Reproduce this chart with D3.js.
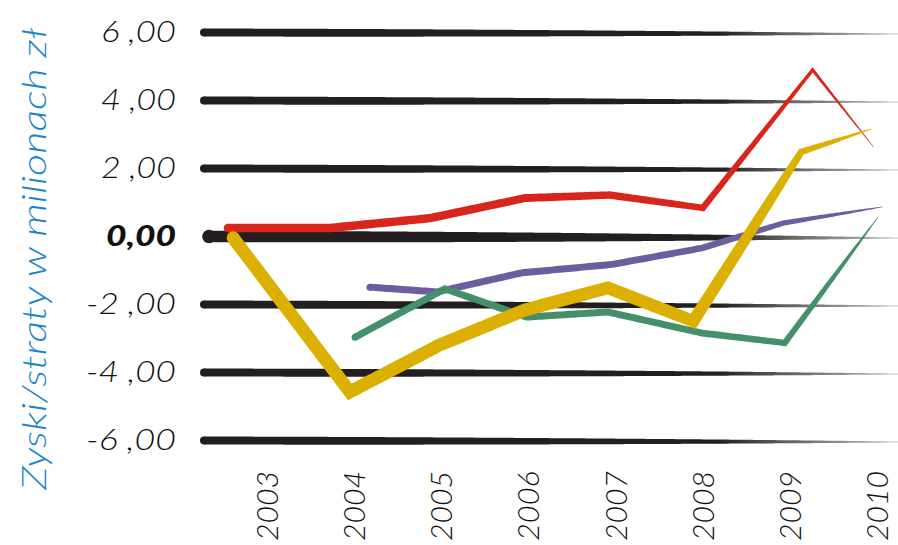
<!DOCTYPE html>
<html><head><meta charset="utf-8">
<script src="https://cdn.jsdelivr.net/npm/d3@7"></script>
<style>html,body{margin:0;padding:0;background:#fff;} svg{display:block;}</style>
</head><body>
<svg id="c" width="898" height="545"></svg>
<script>
const years = [2003,2004,2005,2006,2007,2008,2009,2010];
const yTicks = [6,4,2,0,-2,-4,-6];
const yTickLabels = ["6 ,00","4 ,00","2 ,00","0,00","-2 ,00","-4 ,00","-6 ,00"];
const yTitle = "Zyski/straty w milionach zł";
// positions along the year axis (as drawn) and values, in millions
const redX = [2002.54,2003.71,2004.86,2005.95,2006.92,2007.99,2009.25,2009.95];
const redY = [0.25,0.25,0.54,1.13,1.22,0.84,4.90,2.63];
const yellowX = [2002.60,2003.94,2004.97,2005.95,2006.90,2007.88,2009.12,2009.92];
const yellowY = [-0.04,-4.57,-3.19,-2.16,-1.51,-2.49,2.49,3.16];
const greenX = [2004.0,2005.03,2005.97,2006.90,2007.98,2008.93,2010.0];
const greenY = [-2.96,-1.54,-2.37,-2.22,-2.84,-3.13,0.57];
const purpleX = [2004.17,2004.94,2005.91,2006.95,2007.98,2008.92,2010.05];
const purpleY = [-1.49,-1.63,-1.07,-0.82,-0.34,0.40,0.87];

const svg = d3.select("#c");
const x = d3.scaleLinear().domain([2003,2010]).range([268,878]);
const y = d3.scaleLinear().domain([-6,6]).range([440.5,32.5]);
const INK = "#231f20";

const defs = svg.append("defs");
const g = defs.append("linearGradient").attr("id","fade")
  .attr("gradientUnits","userSpaceOnUse").attr("x1",200).attr("x2",898).attr("y1",0).attr("y2",0);
g.append("stop").attr("offset","0").attr("stop-color",INK);
g.append("stop").attr("offset","0.74").attr("stop-color",INK);
g.append("stop").attr("offset","1").attr("stop-color","#c4c4c4");

// build a tapered outline polygon with miter joins
function taper(pts, wfun){
  const rs = [];
  for (let i=0;i<pts.length-1;i++){
    const a=pts[i], b=pts[i+1];
    const d=Math.hypot(b[0]-a[0],b[1]-a[1]);
    const n=Math.max(1,Math.ceil(d/3));
    for (let k=0;k<n;k++) rs.push([a[0]+(b[0]-a[0])*k/n, a[1]+(b[1]-a[1])*k/n]);
  }
  rs.push(pts[pts.length-1]);
  const L=[0];
  for (let i=1;i<rs.length;i++) L.push(L[i-1]+Math.hypot(rs[i][0]-rs[i-1][0],rs[i][1]-rs[i-1][1]));
  const tot=L[L.length-1];
  const left=[], right=[];
  const nrm=(a,b)=>{const dx=b[0]-a[0],dy=b[1]-a[1],l=Math.hypot(dx,dy)||1;return [-dy/l,dx/l];};
  for (let i=0;i<rs.length;i++){
    const w=wfun(L[i]/tot, rs[i]);
    let m, sc=1;
    if (i===0) m=nrm(rs[0],rs[1]);
    else if (i===rs.length-1) m=nrm(rs[i-1],rs[i]);
    else {
      const n1=nrm(rs[i-1],rs[i]), n2=nrm(rs[i],rs[i+1]);
      let mx=n1[0]+n2[0], my=n1[1]+n2[1]; const ml=Math.hypot(mx,my)||1;
      m=[mx/ml,my/ml]; sc=Math.min(4,1/Math.max(0.25,(m[0]*n1[0]+m[1]*n1[1])));
    }
    left.push([rs[i][0]+m[0]*w/2*sc, rs[i][1]+m[1]*w/2*sc]);
    right.push([rs[i][0]-m[0]*w/2*sc, rs[i][1]-m[1]*w/2*sc]);
  }
  const all=left.concat(right.reverse());
  return "M"+all.map(p=>p[0].toFixed(2)+","+p[1].toFixed(2)).join("L")+"Z";
}

// gridlines
const grid = svg.append("g");
yTicks.forEach(v=>{
  const zero = v===0;
  const x0 = zero?209:204, x1 = 898, w0 = zero?11.5:8;
  const pts=[[x0,y(v)],[x1,y(v)+1.5]];
  grid.append("path").attr("d",taper(pts,(s)=>1+(w0-1)*(1-s*s))).attr("fill","url(#fade)");
  grid.append("circle").attr("cx",x0).attr("cy",y(v)).attr("r",zero?6.8:w0/2).attr("fill",INK);
});

// y labels
svg.append("g").selectAll("text").data(yTicks).join("text")
  .attr("x",176).attr("y",d=>y(d)-2)
  .attr("text-anchor","end").attr("dominant-baseline","central")
  .attr("font-family","Lato, 'Open Sans', sans-serif")
  .attr("font-style","italic")
  .attr("font-weight",d=>d===0?900:300)
  .attr("font-size",29)
  .attr("fill","#111")
  .attr("textLength",(d,i)=>d===0?70:15*yTickLabels[i].length)
  .attr("lengthAdjust","spacingAndGlyphs")
  .text((d,i)=>yTickLabels[i]);

// y title
svg.append("text")
  .attr("transform","translate(46,490) rotate(-90)")
  .attr("font-family","Lato, 'Open Sans', sans-serif")
  .attr("font-style","italic").attr("font-weight",300)
  .attr("font-size",34).attr("fill","#1a85c7")
  .attr("textLength",462).attr("lengthAdjust","spacingAndGlyphs")
  .text(yTitle);

// x labels
svg.append("g").selectAll("text").data(years).join("text")
  .attr("transform",d=>`translate(${x(d)+10},541) rotate(-90)`)
  .attr("font-family","Lato, 'Open Sans', sans-serif")
  .attr("font-style","italic").attr("font-weight",300)
  .attr("font-size",30).attr("fill","#111")
  .attr("textLength",70).attr("lengthAdjust","spacingAndGlyphs")
  .text(d=>d);

// series
const series = [
  {xs:purpleX, ys:purpleY, color:"#6c5d9f", w0:7, w1:0.6, k:6},
  {xs:greenX, ys:greenY, color:"#44906a", w0:7, w1:0.5, k:7},
  {xs:redX, ys:redY, color:"#d9261c", w0:8.5, w1:0.5, k:3},
  {xs:yellowX, ys:yellowY, color:"#dcb000", w0:13, w1:0.8, k:7}
];
const lg = svg.append("g");
series.forEach(s=>{
  const pts = s.xs.map((xv,i)=>[x(xv), y(s.ys[i])]);
  lg.append("path").attr("d",taper(pts,(t)=>s.w1+(s.w0-s.w1)*(1-Math.pow(t,s.k)))).attr("fill",s.color);
  lg.append("circle").attr("cx",pts[0][0]).attr("cy",pts[0][1]).attr("r",s.w0/2).attr("fill",s.color);
});
</script>
</body></html>
